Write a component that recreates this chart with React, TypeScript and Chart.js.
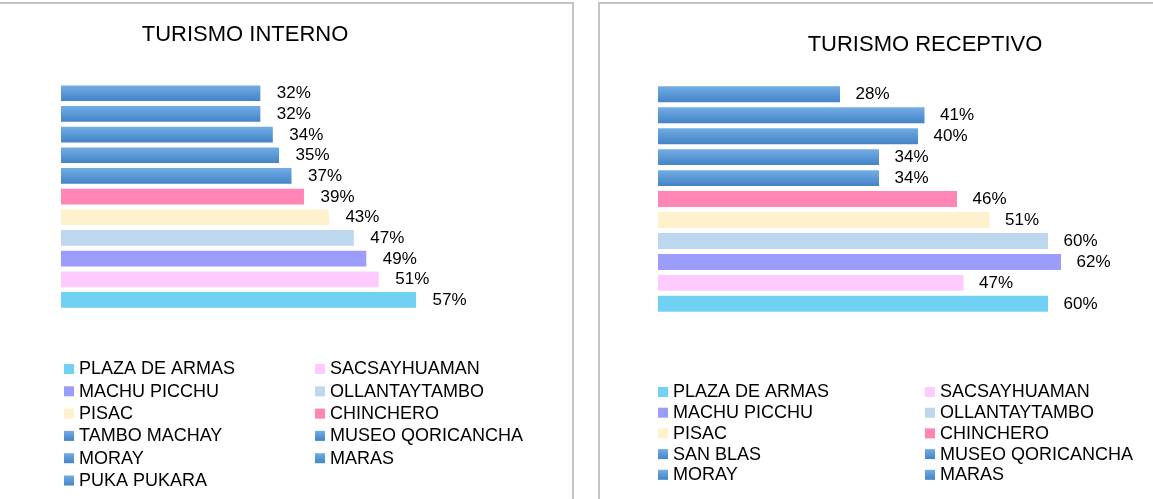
import React, { useEffect, useRef } from "react";
import { Chart, registerables } from "chart.js";

Chart.register(...registerables);

// ---- DATA (series order, as in the legend) ----
const internoTitle = "TURISMO INTERNO";
const internoCategories = [
  "PLAZA DE ARMAS",
  "SACSAYHUAMAN",
  "MACHU PICCHU",
  "OLLANTAYTAMBO",
  "PISAC",
  "CHINCHERO",
  "TAMBO MACHAY",
  "MUSEO QORICANCHA",
  "MORAY",
  "MARAS",
  "PUKA PUKARA",
];
const internoValues = [57, 51, 49, 47, 43, 39, 37, 35, 34, 32, 32];

const receptivoTitle = "TURISMO RECEPTIVO";
const receptivoCategories = [
  "PLAZA DE ARMAS",
  "SACSAYHUAMAN",
  "MACHU PICCHU",
  "OLLANTAYTAMBO",
  "PISAC",
  "CHINCHERO",
  "SAN BLAS",
  "MUSEO QORICANCHA",
  "MORAY",
  "MARAS",
  "", // legend entry not visible in the reference
];
const receptivoValues = [60, 47, 62, 60, 51, 46, 34, 34, 40, 41, 28];

// ---- STYLE ----
const FONT = "'Liberation Sans', Arial, Helvetica, sans-serif";
const palette: Record<string, string> = {
  "PLAZA DE ARMAS": "#70d1f5",
  SACSAYHUAMAN: "#fdcbfd",
  "MACHU PICCHU": "#9c9cfc",
  OLLANTAYTAMBO: "#bdd7ee",
  PISAC: "#fff1cd",
  CHINCHERO: "#ff85b5",
};
const BLUE_TOP = "#72ade4";
const BLUE_BOTTOM = "#4383c7";
const BAR_PCT = 0.76;

function blueGradient(ctx: CanvasRenderingContext2D, top: number, bottom: number) {
  const g = ctx.createLinearGradient(0, top, 0, bottom);
  g.addColorStop(0, BLUE_TOP);
  g.addColorStop(1, BLUE_BOTTOM);
  return g;
}

function barFill(c: any) {
  const chart = c.chart;
  const name = chart.data.labels[c.dataIndex];
  if (palette[name]) return palette[name];
  const y = chart.scales && chart.scales.y;
  if (!y || c.type !== "data" || !y.height) return BLUE_BOTTOM;
  const center = y.getPixelForValue(c.dataIndex);
  const half = ((y.height / chart.data.labels.length) * BAR_PCT) / 2;
  return blueGradient(chart.ctx, center - half, center + half);
}

const valueLabels = {
  id: "valueLabels",
  afterDatasetsDraw(chart: any, _args: any, opts: any) {
    const ctx = chart.ctx;
    const meta = chart.getDatasetMeta(0);
    const data = chart.data.datasets[0].data;
    ctx.save();
    ctx.font = `${opts.size}px ${FONT}`;
    ctx.fillStyle = "#000";
    ctx.textAlign = "left";
    ctx.textBaseline = "middle";
    meta.data.forEach((el: any, i: number) => {
      ctx.fillText(`${data[i]}%`, el.x + opts.gap, el.y + 0.5);
    });
    ctx.restore();
  },
};

const twoColLegend = {
  id: "twoColLegend",
  afterDraw(chart: any, _args: any, opts: any) {
    const ctx = chart.ctx;
    const names: string[] = opts.names.filter((n: string) => n);
    ctx.save();
    ctx.font = `${opts.size}px ${FONT}`;
    ctx.textAlign = "left";
    ctx.textBaseline = "middle";
    names.forEach((name, i) => {
      const col = i % 2;
      const row = Math.floor(i / 2);
      const cy = opts.top + row * opts.rowHeight;
      const bx = opts.cols[col];
      const b = opts.box;
      ctx.fillStyle = palette[name] || blueGradient(ctx, cy - b / 2, cy + b / 2);
      ctx.fillRect(bx, cy - b / 2, b, b);
      ctx.fillStyle = "#000";
      ctx.fillText(name, bx + b + opts.textGap, cy + 0.5);
    });
    ctx.restore();
  },
};

type Cfg = {
  title: string;
  categories: string[];
  values: number[];
  max: number;
  padding: { left: number; right: number; top: number; bottom: number };
  titlePad: { top: number; bottom: number };
  labelGap: number;
  legend: { top: number; rowHeight: number; cols: number[] };
};

function BarPanel({ cfg, width, height, style }: { cfg: Cfg; width: number; height: number; style: React.CSSProperties }) {
  const ref = useRef<HTMLCanvasElement | null>(null);
  useEffect(() => {
    if (!ref.current) return;
    const chart = new Chart(ref.current, {
      type: "bar",
      data: {
        labels: cfg.categories,
        datasets: [
          {
            data: cfg.values,
            backgroundColor: barFill as any,
            borderWidth: 0,
            barPercentage: BAR_PCT,
            categoryPercentage: 1,
          },
        ],
      },
      options: {
        indexAxis: "y",
        animation: false,
        responsive: false,
        maintainAspectRatio: false,
        events: [],
        layout: { padding: cfg.padding },
        scales: {
          x: { display: false, min: 0, max: cfg.max },
          y: { display: false, reverse: true },
        },
        plugins: {
          legend: { display: false },
          tooltip: { enabled: false },
          title: {
            display: true,
            text: cfg.title,
            fullSize: false,
            color: "#000",
            font: { family: FONT, size: 22, weight: "normal" as any, lineHeight: 1.2 },
            padding: cfg.titlePad,
          },
          valueLabels: { size: 17, gap: cfg.labelGap },
          twoColLegend: {
            names: cfg.categories,
            size: 18,
            box: 10,
            textGap: 5,
            top: cfg.legend.top,
            rowHeight: cfg.legend.rowHeight,
            cols: cfg.legend.cols,
          },
        } as any,
      },
      plugins: [valueLabels, twoColLegend],
    });
    return () => chart.destroy();
  }, [cfg]);
  return <canvas ref={ref} width={width} height={height} style={{ position: "absolute", display: "block", ...style }} />;
}

const internoCfg: Cfg = {
  title: internoTitle,
  categories: internoCategories,
  values: internoValues,
  max: 59.07,
  padding: { left: 61, right: 143, top: 0, bottom: 188.7 },
  titlePad: { top: 21.5, bottom: 35 },
  labelGap: 16.5,
  legend: { top: 369, rowHeight: 22.3, cols: [64, 315] },
};

const receptivoCfg: Cfg = {
  title: receptivoTitle,
  categories: receptivoCategories,
  values: receptivoValues,
  max: 82.15,
  padding: { left: 57, right: 29, top: 0, bottom: 184.7 },
  titlePad: { top: 31.8, bottom: 25.6 },
  labelGap: 15.5,
  legend: { top: 392, rowHeight: 20.7, cols: [57, 324] },
};

export default function App() {
  return (
    <div style={{ position: "fixed", inset: 0, overflow: "hidden", background: "#fff" }}>
      <div
        style={{
          position: "absolute",
          left: -10,
          top: 2,
          width: 584,
          height: 600,
          boxSizing: "border-box",
          border: "2px solid #c4c4c4",
        }}
      />
      <div
        style={{
          position: "absolute",
          left: 598,
          top: 2,
          width: 700,
          height: 600,
          boxSizing: "border-box",
          border: "2px solid #c4c4c4",
        }}
      />
      <BarPanel cfg={internoCfg} width={572} height={499} style={{ left: 0, top: 0 }} />
      <BarPanel cfg={receptivoCfg} width={620} height={499} style={{ left: 601, top: 0 }} />
    </div>
  );
}
